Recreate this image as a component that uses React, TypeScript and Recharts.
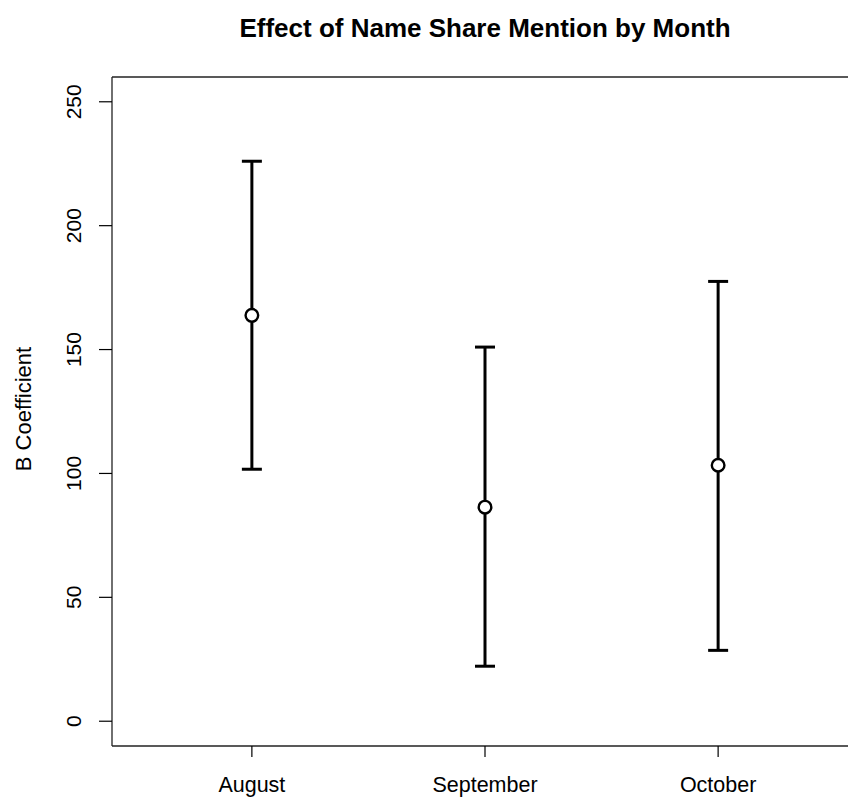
import React from 'react'
import {
  ComposedChart,
  Scatter,
  ErrorBar,
  XAxis,
  YAxis,
  ReferenceLine,
} from 'recharts'

const months = ['August', 'September', 'October']
const estimates = [163.8, 86.4, 103.3]
const lowerBounds = [101.7, 22.2, 28.6]
const upperBounds = [226.0, 151.0, 177.5]
const yTicks = [0, 50, 100, 150, 200, 250]

const data = months.map((m, i) => ({
  pos: i + 1,
  month: m,
  value: estimates[i],
  err: [estimates[i] - lowerBounds[i], upperBounds[i] - estimates[i]],
}))

const FONT = '"Liberation Sans", Arial, Helvetica, sans-serif'

const YTick = (props: any) => {
  const { x, y, payload } = props
  return (
    <text
      x={x}
      y={y}
      transform={`rotate(-90, ${x}, ${y})`}
      textAnchor="middle"
      fontFamily={FONT}
      fontSize={21}
      fill="#000"
    >
      {payload.value}
    </text>
  )
}

const XTick = (props: any) => {
  const { x, y, payload } = props
  return (
    <text x={x} y={y + 33} textAnchor="middle" fontFamily={FONT} fontSize={21.5} fill="#000">
      {months[payload.value - 1]}
    </text>
  )
}

const Dot = (props: any) => {
  const { cx, cy } = props
  return <circle cx={cx} cy={cy} r={6.3} fill="#fff" stroke="#000" strokeWidth={2.4} />
}

export default function App() {
  return (
    <div
      style={{
        position: 'relative',
        width: 848,
        height: 802,
        overflow: 'hidden',
        background: '#fff',
      }}
    >
      <style>{'html,body{margin:0;padding:0;overflow:hidden}'}</style>
      <div
        style={{
          position: 'absolute',
          left: 0,
          width: 970,
          top: 15,
          textAlign: 'center',
          fontFamily: FONT,
          fontWeight: 'bold',
          fontSize: 26,
          lineHeight: '26px',
          color: '#000',
        }}
      >
        Effect of Name Share Mention by Month
      </div>
      <ComposedChart
        width={870}
        height={802}
        data={data}
        margin={{ top: 77, right: 12, bottom: 0, left: 0 }}
      >
        <XAxis
          type="number"
          dataKey="pos"
          domain={[0.4, 3.6]}
          ticks={[1, 2, 3]}
          allowDataOverflow
          axisLine={{ stroke: '#222', strokeWidth: 1.3 }}
          tickSize={11}
          tickLine={{ stroke: '#000', strokeWidth: 1.2 }}
          tick={<XTick />}
          height={56}
        />
        <YAxis
          type="number"
          domain={[-10, 260]}
          ticks={yTicks}
          allowDataOverflow
          axisLine={{ stroke: '#222', strokeWidth: 1.3 }}
          tickSize={13}
          tickMargin={17.5}
          tickLine={{ stroke: '#000', strokeWidth: 1.2 }}
          tick={<YTick />}
          width={112}
          label={{
            content: () => (
              <text
                x={31}
                y={409}
                transform="rotate(-90, 31, 409)"
                textAnchor="middle"
                fontFamily={FONT}
                fontSize={22}
                fill="#000"
              >
                B Coefficient
              </text>
            ),
          }}
        />
        <ReferenceLine y={260} stroke="#222" strokeWidth={1.3} ifOverflow="visible" />
        <Scatter dataKey="value" shape={<Dot />} isAnimationActive={false}>
          <ErrorBar dataKey="err" direction="y" width={10} stroke="#000" strokeWidth={3} />
        </Scatter>
      </ComposedChart>
    </div>
  )
}
